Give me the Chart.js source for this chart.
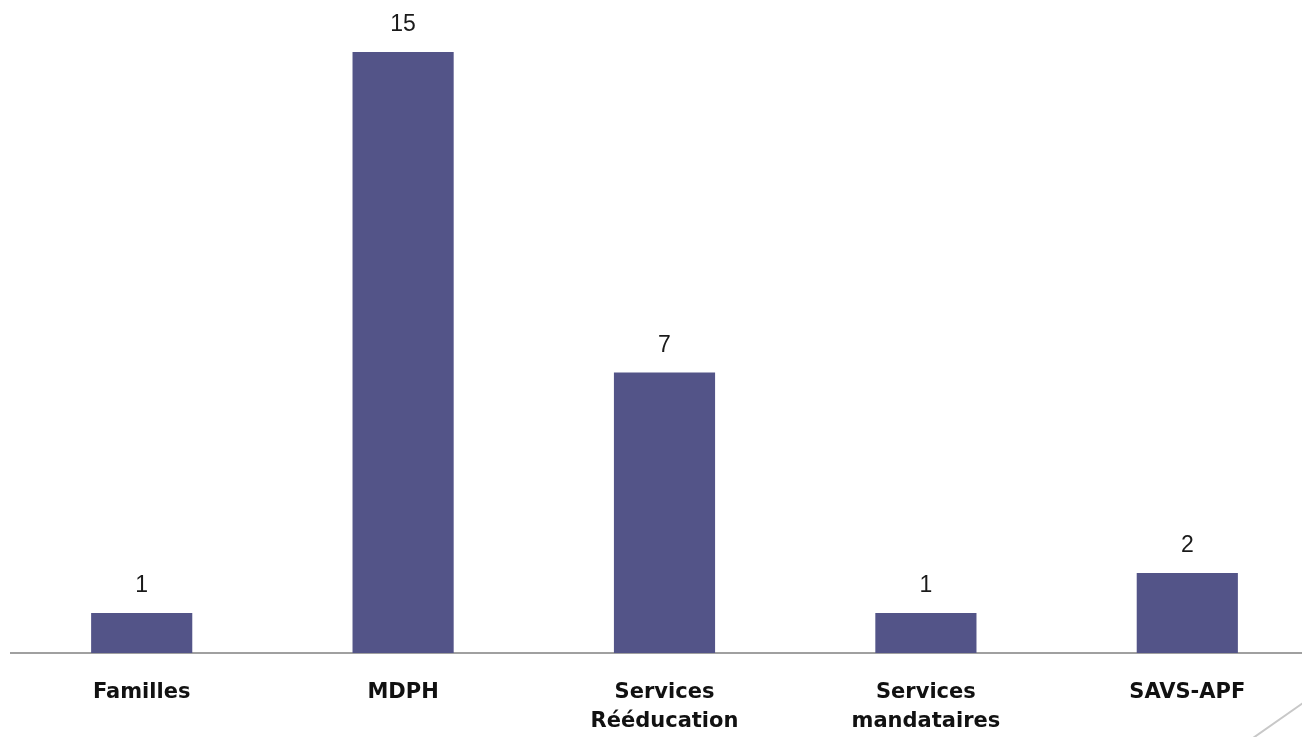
<!DOCTYPE html>
<html>
<head>
<meta charset="utf-8">
<script src="https://cdn.jsdelivr.net/npm/chart.js@4"></script>
<style>
  html, body { margin: 0; padding: 0; background: #fff; overflow: hidden; }
  #wrap { position: relative; width: 1318px; height: 737px; }
</style>
</head>
<body>
<div id="wrap"><canvas id="chart"></canvas></div>
<script>
// data
const categories = [['Familles'], ['MDPH'], ['Services', 'Rééducation'], ['Services', 'mandataires'], ['SAVS-APF']];
const values = [1, 15, 7, 1, 2];

// value labels above bars
const valueLabels = {
  id: 'valueLabels',
  afterDatasetsDraw(chart) {
    const ctx = chart.ctx;
    const meta = chart.getDatasetMeta(0);
    ctx.save();
    ctx.font = '23px "Liberation Sans", Arial, sans-serif';
    ctx.fillStyle = '#1a1a1a';
    ctx.textAlign = 'center';
    ctx.textBaseline = 'middle';
    meta.data.forEach((bar, i) => {
      ctx.fillText(values[i], bar.x, bar.y - 27);
    });
    ctx.restore();
  }
};

// slide decoration in the corner
const cornerLine = {
  id: 'cornerLine',
  afterDraw(chart) {
    const ctx = chart.ctx;
    ctx.save();
    ctx.strokeStyle = '#c8c8c8';
    ctx.lineWidth = 2;
    ctx.beginPath();
    ctx.moveTo(1303, 703);
    ctx.lineTo(1253, 738);
    ctx.stroke();
    ctx.restore();
  }
};

const ctx = document.getElementById('chart').getContext('2d');
new Chart(ctx, {
  type: 'bar',
  data: {
    labels: categories,
    datasets: [{
      data: values,
      backgroundColor: '#535488',
      categoryPercentage: 1,
      barPercentage: 0.387
    }]
  },
  options: {
    responsive: true,
    maintainAspectRatio: false,
    animation: false,
    layout: { padding: { left: 11, right: 0, top: 12, bottom: 0 } },
    plugins: { legend: { display: false }, tooltip: { enabled: false } },
    scales: {
      x: {
        grid: { display: false, drawTicks: false },
        border: { display: true, color: '#a0a0a0', width: 2 },
        ticks: {
          color: '#111',
          padding: 25,
          font: { family: '"DejaVu Sans", sans-serif', size: 21, weight: 'bold', lineHeight: 1.38 },
          maxRotation: 0,
          autoSkip: false
        },
        afterFit(axis) { axis.height = 84; }
      },
      y: {
        display: false,
        min: 0,
        max: 16
      }
    }
  },
  plugins: [valueLabels, cornerLine]
});
</script>
</body>
</html>
